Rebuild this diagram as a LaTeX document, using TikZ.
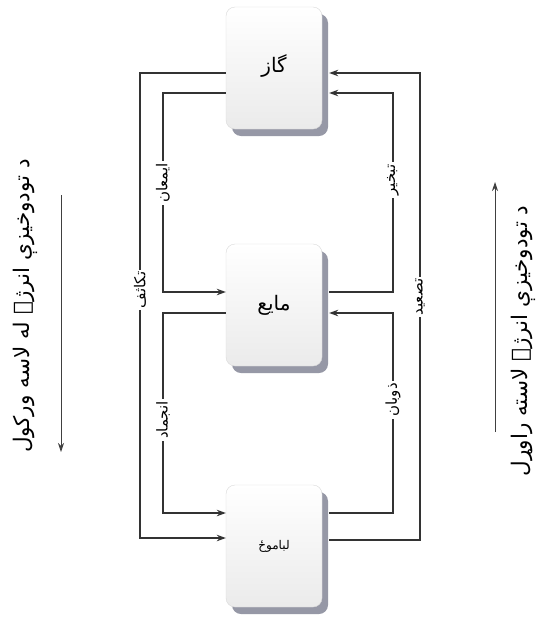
\documentclass[tikz,border=0pt]{standalone}
\usepackage{fontspec}
\TeXXeTstate=1
\newfontfamily\arabicfont[Script=Arabic]{DejaVu Sans}
\usetikzlibrary{arrows.meta,shadows,calc}
\definecolor{shadowgray}{RGB}{150,152,166}
\begin{document}
\begin{tikzpicture}[x=1pt,y=-1pt,
  box/.style={draw=gray!30, line width=0.4pt, rounded corners=9pt,
    minimum width=96pt, minimum height=122pt, inner sep=0pt,
    top color=white, bottom color=gray!16,
    drop shadow={shadow xshift=6pt, shadow yshift=-7pt, fill=shadowgray, opacity=1}},
  conn/.style={draw=black!80, line width=1.1pt},
  arr/.style={conn, -{Stealth[length=9pt,width=6.5pt]}},
  lab/.style={fill=white, rotate=90, inner sep=2pt, font=\arabicfont\fontsize{15}{18}\selectfont},
  side/.style={rotate=90, inner sep=0pt, font=\arabicfont\fontsize{21.5}{26}\selectfont},
  sidearr/.style={draw=black!75, line width=0.9pt, -{Stealth[length=9pt,width=6pt]}},
  boxtext/.style={font=\arabicfont\fontsize{20}{24}\selectfont}]
\fill[white] (0,0) rectangle (546,619);
\useasboundingbox (0,0) rectangle (546,619);
% boxes
\node[box] (gas) at (274,68) {};
\node[box] (liq) at (274,305) {};
\node[box] (sol) at (274,546) {};
\node[boxtext] (gast) at ([yshift=2pt]gas.center) {\beginR گاز\endR};
\node[boxtext] (liqt) at (liq) {\beginR مایع\endR};
\node[font=\arabicfont\fontsize{12}{14}\selectfont] (solt) at (sol) {\beginR لباموځ\endR};
% left connectors
\draw[arr] (gas.west |- 0,73) -| (140,538) -- (sol.west |- 0,538);
\draw[arr] (gas.west |- 0,93) -| (163,292) -- (liq.west |- 0,292);
\draw[arr] (liq.west |- 0,313) -| (163,513) -- (sol.west |- 0,513);
% right connectors
\draw[arr, shorten <=7pt, shorten >=7pt] (sol.east |- 0,540) -| (420,73) -- (gas.east |- 0,73);
\draw[arr, shorten <=7pt, shorten >=7pt] (liq.east |- 0,292) -| (393,93) -- (gas.east |- 0,93);
\draw[arr, shorten <=7pt, shorten >=7pt] (sol.east |- 0,513) -| (393,313) -- (liq.east |- 0,313);
% labels
\node[lab] (l1) at (140,290) {\beginR تکاثف\endR};
\node[lab] (l2) at (163,183) {\beginR ایمعان\endR};
\node[lab] (l3) at (163,420) {\beginR انجماد\endR};
\node[lab] (r1) at (393,180) {\beginR تبخیر\endR};
\node[lab] (r2) at (420,297) {\beginR تصعید\endR};
\node[lab] (r3) at (393,400) {\beginR ذوبان\endR};
% side arrows
\coordinate (la1) at (61,195);
\coordinate (la2) at (61,452);
\draw[sidearr] (la1) -- (la2);
\coordinate (ra1) at (495,432);
\coordinate (ra2) at (495,182);
\draw[sidearr] (ra1) -- (ra2);
\node[side] (tl) at (25,306) {\beginR د تودوخیزې انرژۍ له لاسه ورکول\endR};
\node[side] (tr) at (523,341) {\beginR د تودوخیزې انرژۍ لاسته راوړل\endR};
\end{tikzpicture}
\end{document}
